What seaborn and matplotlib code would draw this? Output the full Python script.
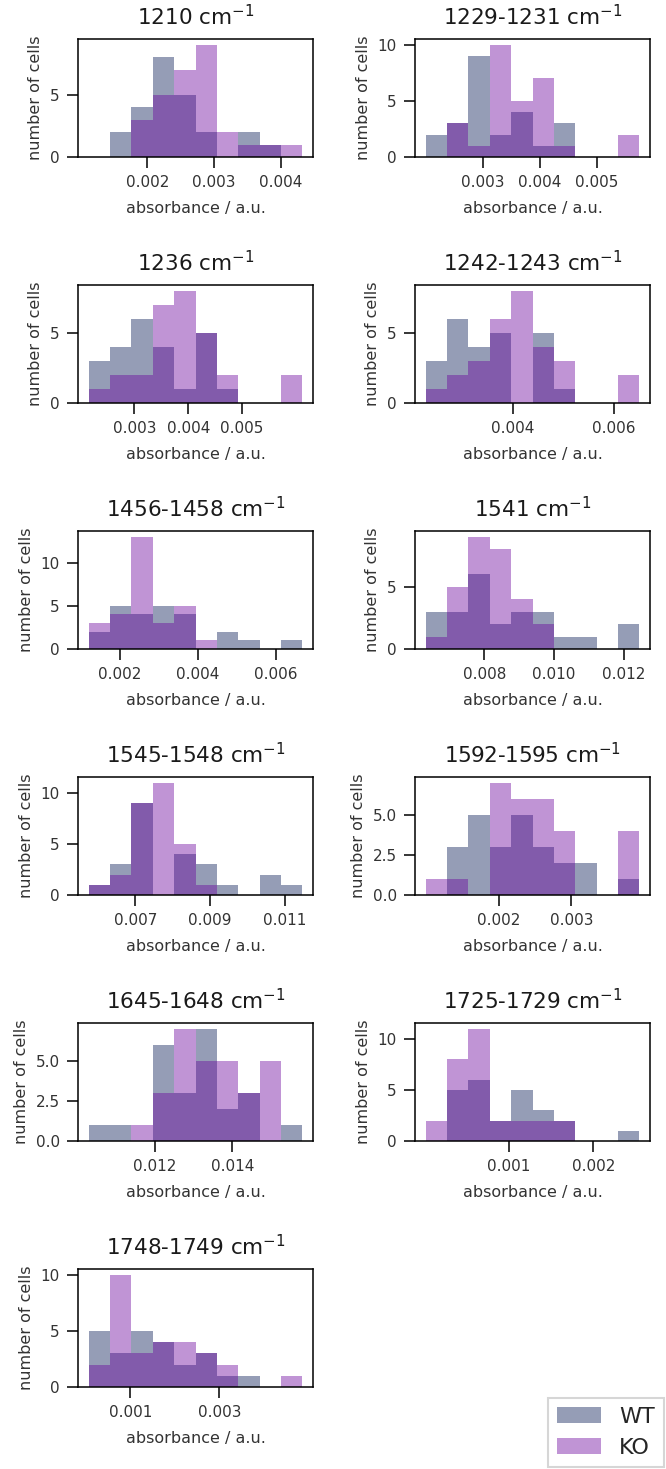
import numpy as np
import pandas as pd
import matplotlib
matplotlib.use("Agg")
import matplotlib.pyplot as plt
from matplotlib.patches import Patch
import seaborn as sns

# wavenumber bands (panel titles)
bands = ["1210", "1229-1231", "1236", "1242-1243", "1456-1458", "1541",
         "1545-1548", "1592-1595", "1645-1648", "1725-1729", "1748-1749"]

# histogram range (absorbance) for each band, 10 equal bins
bin_lo = [0.00112, 0.00200, 0.002154, 0.00229, 0.001209, 0.006317,
          0.005756, 0.000981, 0.010308, 0.0000237, 0.0000672]
bin_hi = [0.004325, 0.005747, 0.006117, 0.006495, 0.006672, 0.012442,
          0.011462, 0.003944, 0.015795, 0.002542, 0.004858]

# counts per bin, WT (24 cells) and KO (29 cells)
wt_counts = [
    [0, 2, 4, 8, 5, 2, 0, 2, 1, 0],
    [2, 3, 9, 2, 4, 1, 3, 0, 0, 0],
    [3, 4, 6, 4, 1, 5, 1, 0, 0, 0],
    [3, 6, 4, 5, 0, 5, 1, 0, 0, 0],
    [2, 5, 4, 5, 4, 0, 2, 1, 0, 1],
    [3, 3, 6, 2, 3, 3, 1, 1, 0, 2],
    [1, 3, 9, 0, 4, 3, 1, 0, 2, 1],
    [0, 3, 5, 3, 5, 3, 2, 2, 0, 1],
    [1, 1, 0, 6, 3, 7, 2, 3, 0, 1],
    [0, 5, 6, 2, 5, 3, 2, 0, 0, 1],
    [5, 3, 5, 4, 2, 3, 1, 1, 0, 0],
]
ko_counts = [
    [0, 0, 3, 5, 7, 9, 2, 1, 1, 1],
    [0, 3, 1, 10, 5, 7, 1, 0, 0, 2],
    [1, 2, 2, 7, 8, 5, 2, 0, 0, 2],
    [1, 2, 3, 6, 8, 4, 3, 0, 0, 2],
    [3, 4, 13, 3, 5, 1, 0, 0, 0, 0],
    [1, 5, 9, 8, 4, 2, 0, 0, 0, 0],
    [1, 2, 9, 11, 5, 1, 0, 0, 0, 0],
    [1, 1, 0, 7, 6, 6, 4, 0, 0, 4],
    [0, 0, 1, 3, 7, 5, 5, 3, 5, 0],
    [2, 8, 11, 2, 2, 2, 2, 0, 0, 0],
    [2, 10, 3, 4, 4, 3, 2, 0, 0, 1],
]

# tick labels
x_ticks = [
    [0.002, 0.003, 0.004],
    [0.003, 0.004, 0.005],
    [0.003, 0.004, 0.005],
    [0.004, 0.006],
    [0.002, 0.004, 0.006],
    [0.008, 0.010, 0.012],
    [0.007, 0.009, 0.011],
    [0.002, 0.003],
    [0.012, 0.014],
    [0.001, 0.002],
    [0.001, 0.003],
]
y_ticks = [
    [0, 5], [0, 5, 10], [0, 5], [0, 5], [0, 5, 10], [0, 5],
    [0, 5, 10], [0.0, 2.5, 5.0], [0.0, 2.5, 5.0], [0, 5, 10], [0, 5, 10],
]

groups = ["WT", "KO"]
colors = {"WT": "#2d3d6f", "KO": "#69009d"}
alphas = {"WT": 0.5, "KO": 0.42}

sns.set_theme(style="ticks")
plt.rcParams["font.family"] = ["DejaVu Sans"]
plt.rcParams["axes.linewidth"] = 1.1
plt.rcParams["axes.edgecolor"] = "black"

W, H = 666, 1469
fig = plt.figure(figsize=(W / 100, H / 100), dpi=100)

for i, band in enumerate(bands):
    row, col = divmod(i, 2)
    left = 78 if col == 0 else 415
    top = 39 + 246 * row
    ax = fig.add_axes([left / W, 1 - (top + 118) / H, 235 / W, 118 / H])

    edges = np.linspace(bin_lo[i], bin_hi[i], len(wt_counts[i]) + 1)
    centers = (edges[:-1] + edges[1:]) / 2
    df = pd.DataFrame({
        "absorbance": np.concatenate([centers, centers]),
        "count": wt_counts[i] + ko_counts[i],
        "group": ["WT"] * len(centers) + ["KO"] * len(centers),
    })
    for g in groups:
        sub = df[df["group"] == g]
        sns.histplot(data=sub, x="absorbance", weights="count", bins=list(edges),
                     element="step", color=colors[g], alpha=alphas[g],
                     linewidth=0, ax=ax)
    ax.set_ylim(bottom=0)

    ax.set_xticks(x_ticks[i])
    ax.set_xticklabels([f"{t:.3f}" for t in x_ticks[i]])
    ax.set_yticks(y_ticks[i])
    if isinstance(y_ticks[i][1], float):
        ax.set_yticklabels([f"{t:.1f}" for t in y_ticks[i]])
    ax.tick_params(direction="out", length=8, width=1.1, pad=5,
                   labelsize=11, colors="black", labelcolor="#333333")
    ax.set_title(band + r" cm$^{-1}$", fontsize=15.5, color="#1a1a1a", pad=10)
    ax.set_xlabel("absorbance / a.u.", fontsize=11.5, color="#333333", labelpad=8)
    ax.set_ylabel("number of cells", fontsize=11.5, color="#333333", labelpad=5)

handles = [Patch(facecolor=colors[g], alpha=alphas[g], edgecolor="none") for g in groups]
leg = fig.legend(handles, groups, loc="lower right", bbox_to_anchor=(1.0, 0.0),
                 fontsize=16, frameon=True, fancybox=False, borderaxespad=0.1,
                 handlelength=2.0, handleheight=0.7, edgecolor="#cccccc")
leg.get_frame().set_linewidth(1.5)

fig.savefig("out.png", dpi=100)
